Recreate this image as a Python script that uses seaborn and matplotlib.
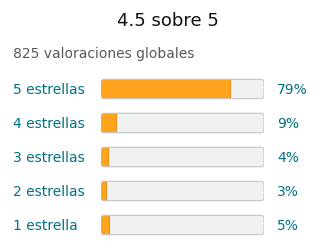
import matplotlib
matplotlib.use("Agg")
import pandas as pd
import seaborn as sns
import matplotlib.pyplot as plt
import matplotlib.transforms as mtransforms
from matplotlib.patches import FancyBboxPatch

# datos
estrellas = ["5 estrellas", "4 estrellas", "3 estrellas", "2 estrellas", "1 estrella"]
porcentajes = [79, 9, 4, 3, 5]
titulo = "4.5 sobre 5"
subtitulo = "825 valoraciones globales"

sns.set_style("white")
plt.rcParams['font.family'] = ['DejaVu Sans']

teal = "#007185"
naranja = "#FFA41C"

df = pd.DataFrame({"estrellas": estrellas, "pct": porcentajes, "total": [100] * len(estrellas)})

fig = plt.figure(figsize=(3.2, 2.52), dpi=100)
ax = fig.add_axes([101 / 320, 1 - 242 / 252, 163 / 320, 170 / 252])

# fondo gris y relleno naranja
sns.barplot(data=df, x="total", y="estrellas", color="#F0F2F2", width=0.57,
            saturation=1, ax=ax, orient="h")
n = len(estrellas)
sns.barplot(data=df, x="pct", y="estrellas", color=naranja, width=0.57,
            saturation=1, ax=ax, orient="h")

ax.set_xlim(0, 100)
ax.set_ylim(n - 0.5, -0.5)

# redondear esquinas
px_x = 163 / 100
px_y = 170 / n
r = 3.0
bg = ax.patches[:n]
fg = ax.patches[n:]
for b, f in zip(bg, fg):
    x0, y0, w, h = b.get_x(), b.get_y(), b.get_width(), b.get_height()
    caja = FancyBboxPatch((x0, y0), w, h,
                          boxstyle=f"round,pad=0,rounding_size={r / px_x}",
                          mutation_aspect=px_x / px_y,
                          facecolor="#F0F2F2", edgecolor="none", zorder=1)
    ax.add_patch(caja)
    b.set_visible(False)
    f.set_zorder(2)
    f.set_edgecolor("#E8901A")
    f.set_linewidth(0.8)
    f.set_clip_path(caja)
    borde = FancyBboxPatch((x0, y0), w, h,
                           boxstyle=f"round,pad=0,rounding_size={r / px_x}",
                           mutation_aspect=px_x / px_y,
                           facecolor="none", edgecolor="#C3C6C6", linewidth=0.8, zorder=3)
    ax.add_patch(borde)

sns.despine(ax=ax, left=True, bottom=True)
ax.set_xticks([])
ax.set_xlabel("")
ax.set_ylabel("")
ax.tick_params(axis="y", length=0, pad=88 * 0.72)
for lab in ax.get_yticklabels():
    lab.set_ha("left")
    lab.set_va("center_baseline")
    lab.set_color(teal)
    lab.set_fontsize(10)

trans = mtransforms.blended_transform_factory(ax.transAxes, ax.transData)
for i, p in enumerate(porcentajes):
    ax.text(1 + 13 / 163, i, f"{p}%", transform=trans, ha="left", va="center_baseline",
            color=teal, fontsize=10)

fig.text(168 / 320, 1 - 21 / 252, titulo, ha="center", va="center", fontsize=13, color="#0F1111")
fig.text(13 / 320, 1 - 54 / 252, subtitulo, ha="left", va="center", fontsize=10, color="#565959")

fig.savefig("out.png", dpi=100)
